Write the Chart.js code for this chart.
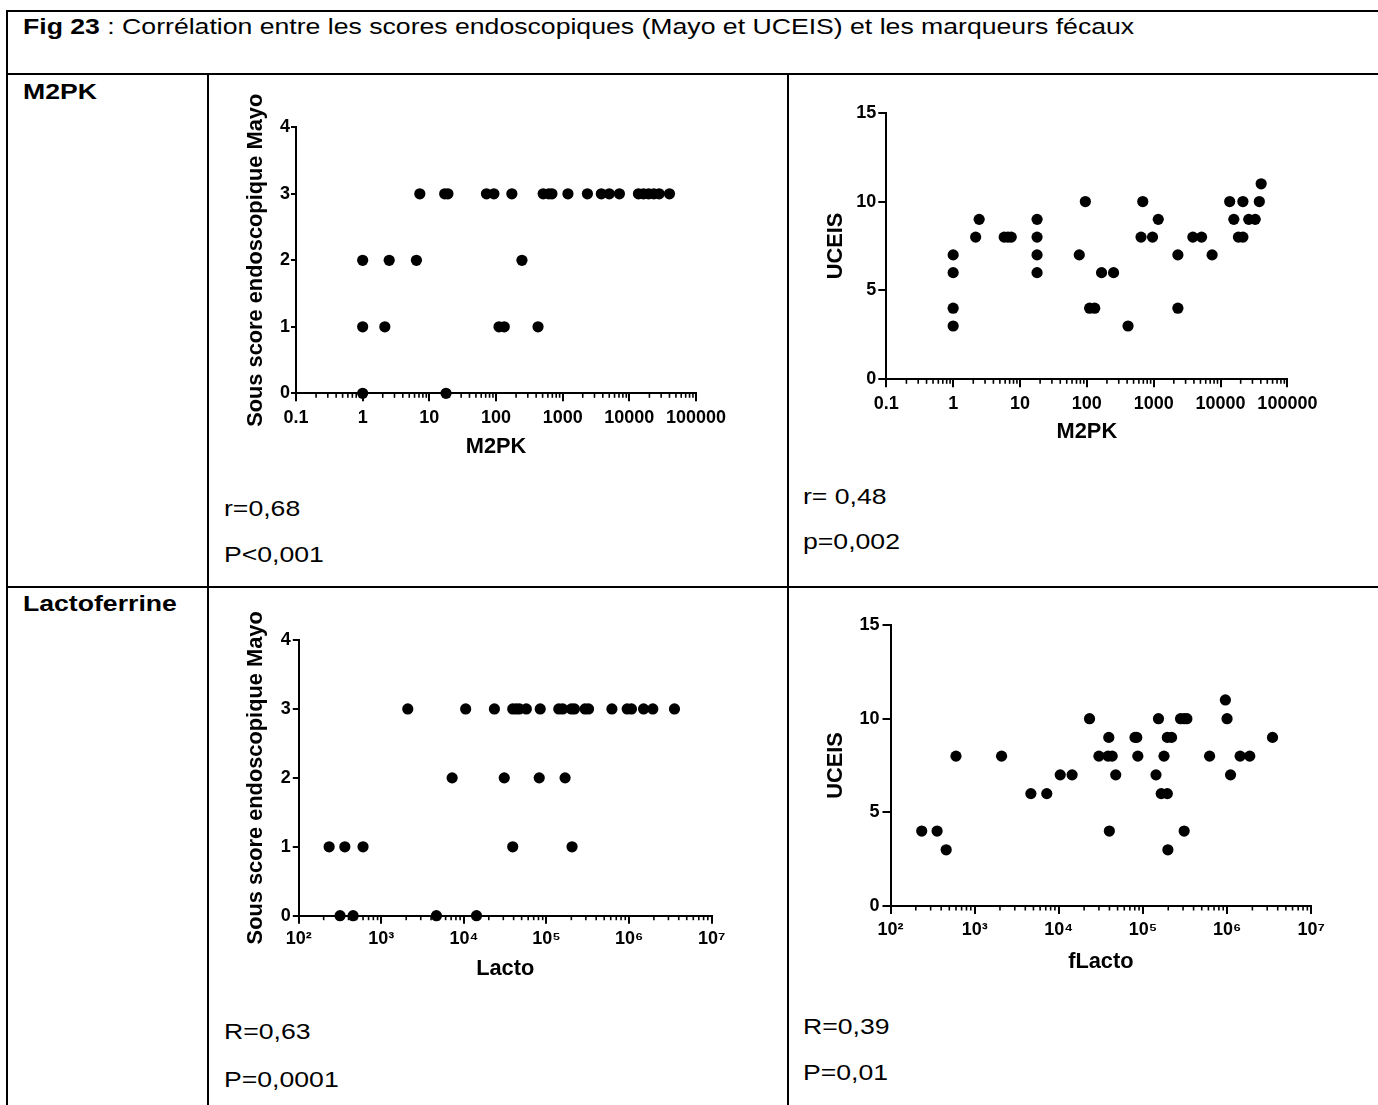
<!DOCTYPE html>
<html>
<head>
<meta charset="utf-8">
<script src="https://cdn.jsdelivr.net/npm/chart.js@4.4.1/dist/chart.umd.min.js"></script>
<style>
html,body{margin:0;padding:0;background:#fff;width:1378px;height:1105px;overflow:hidden;}
.ln{position:absolute;background:#000;}
.t{position:absolute;white-space:nowrap;font-family:"Liberation Sans",Arial,sans-serif;font-size:22px;line-height:22px;color:#000;transform:scaleX(1.21);transform-origin:0 50%;}
.b{font-weight:bold;}
canvas{position:absolute;left:0;top:0;}
</style>
</head>
<body>
<!-- table grid -->
<div class="ln" style="left:6px;top:10px;width:1372px;height:2px"></div>
<div class="ln" style="left:6px;top:10px;width:2px;height:1095px"></div>
<div class="ln" style="left:6px;top:73px;width:1372px;height:2px"></div>
<div class="ln" style="left:207px;top:73px;width:2px;height:1032px"></div>
<div class="ln" style="left:787px;top:73px;width:2px;height:1032px"></div>
<div class="ln" style="left:6px;top:586px;width:1372px;height:2px"></div>

<div class="t" style="left:22.7px;top:16.4px"><b>Fig 23</b> : Corrélation entre les scores endoscopiques (Mayo et UCEIS) et les marqueurs fécaux</div>
<div class="t b" style="left:22.7px;top:81.4px">M2PK</div>
<div class="t b" style="left:22.7px;top:593.4px">Lactoferrine</div>
<div class="t" style="left:224px;top:498.1px">r=0,68</div>
<div class="t" style="left:224px;top:544.1px">P&lt;0,001</div>
<div class="t" style="left:802.7px;top:485.7px">r= 0,48</div>
<div class="t" style="left:802.7px;top:531.4px">p=0,002</div>
<div class="t" style="left:224px;top:1021.4px">R=0,63</div>
<div class="t" style="left:224px;top:1069.4px">P=0,0001</div>
<div class="t" style="left:802.7px;top:1016.4px">R=0,39</div>
<div class="t" style="left:802.7px;top:1062.4px">P=0,01</div>

<canvas id="c1" width="1378" height="1105"></canvas>
<canvas id="c2" width="1378" height="1105"></canvas>
<canvas id="c3" width="1378" height="1105"></canvas>
<canvas id="c4" width="1378" height="1105"></canvas>

<script>
// ---------------- data ----------------
const m2pkTicks = [0.1, 1, 10, 100, 1000, 10000, 100000];
const m2pkTickLabels = ['0.1', '1', '10', '100', '1000', '10000', '100000'];
const lactoTicks = [1e2, 1e3, 1e4, 1e5, 1e6, 1e7];
const lactoTickLabels = ['10²', '10³', '10⁴', '10⁵', '10⁶', '10⁷'];
const mayoTicks = [0, 1, 2, 3, 4];
const uceisTicks = [0, 5, 10, 15];

// M2PK vs sous score Mayo
const m2pkMayoX = [7.2, 17, 19, 72, 93, 173, 510, 620, 690, 1200, 2350, 3800, 5000, 7100, 13700, 16300, 19500, 23300, 28000, 40000,
                   1, 2.5, 6.4, 245,
                   1, 2.15, 111, 133, 427,
                   1, 17.8];
const m2pkMayoY = [3, 3, 3, 3, 3, 3, 3, 3, 3, 3, 3, 3, 3, 3, 3, 3, 3, 3, 3, 3,
                   2, 2, 2, 2,
                   1, 1, 1, 1, 1,
                   0, 0];

// M2PK vs UCEIS
const m2pkUceisX = [1, 1, 1, 1, 2.17, 2.45, 5.8, 6.6, 7.4, 18, 18, 18, 18, 77, 95, 110, 131, 166, 251, 413,
                    646, 686, 960, 1170, 2300, 2300, 3850, 5200, 7480, 13700, 15800, 18500, 21600, 21600, 26400, 33000, 38000, 40500];
const m2pkUceisY = [7, 6, 4, 3, 8, 9, 8, 8, 8, 9, 8, 7, 6, 7, 10, 4, 4, 6, 6, 3,
                    8, 10, 8, 9, 7, 4, 8, 8, 7, 10, 9, 8, 10, 8, 9, 9, 10, 11];

// Lacto vs sous score Mayo
const lactoMayoX = [2090, 10500, 23400, 39000, 43000, 47000, 57000, 84000, 141000, 157000, 200000, 218000, 293000, 323000, 620000, 950000, 1070000, 1500000, 1940000, 3550000,
                    7200, 30800, 81700, 168000,
                    233, 361, 600, 39000, 204000,
                    316, 455, 4640, 14200];
const lactoMayoY = [3, 3, 3, 3, 3, 3, 3, 3, 3, 3, 3, 3, 3, 3, 3, 3, 3, 3, 3, 3,
                    2, 2, 2, 2,
                    1, 1, 1, 1, 1,
                    0, 0, 0, 0];

// fLacto vs UCEIS
const flactoUceisX = [235, 358, 459, 600, 2090, 4660, 7200, 10400, 14400, 23200, 30000, 39300, 38500, 43100, 39900, 47500, 80500, 84500, 87000, 143000,
                      153000, 165000, 178000, 195000, 195000, 219000, 198000, 280000, 309000, 333000, 309000, 620000, 955000, 1000000, 1100000, 1430000, 1860000, 3470000];
const flactoUceisY = [4, 4, 3, 8, 8, 6, 6, 7, 7, 10, 8, 9, 8, 8, 4, 7, 9, 9, 8, 7,
                      10, 6, 8, 6, 9, 9, 3, 10, 10, 10, 4, 8, 11, 10, 7, 8, 8, 9];

// ---------------- layout & style ----------------
const PAGE_W = 1378, PAGE_H = 1105;
const FAMILY = "'Liberation Sans', Arial, sans-serif";
Chart.defaults.font.family = FAMILY;
Chart.defaults.color = '#000';
const TITLE_SIZE = 21.8;
const TITLE_OFF = 4 + TITLE_SIZE * 1.2 / 2;
const XTICK_SIZE = 18, YTICK_SIZE = 18;

const minorTicksPlugin = {
  id: 'minorTicks',
  beforeDatasetsDraw(chart, args, opts) {
    const xs = chart.scales.x, ctx = chart.ctx, y0 = chart.chartArea.bottom;
    const dec = opts.decades;
    ctx.save();
    ctx.strokeStyle = '#000';
    ctx.lineWidth = 1.6;
    for (let i = 0; i < dec.length - 1; i++) {
      for (let k = 2; k <= 9; k++) {
        const x = xs.getPixelForValue(dec[i] * k);
        ctx.beginPath();
        ctx.moveTo(x, y0);
        ctx.lineTo(x, y0 + opts.len);
        ctx.stroke();
      }
    }
    ctx.restore();
  }
};

function buildChart(id, o) {
  const pts = o.xs.map((x, i) => ({x: x, y: o.ys[i]}));
  const leftEdge = o.titleX - TITLE_OFF;
  const bottomEdge = o.xTitleY + TITLE_OFF;
  return new Chart(document.getElementById(id), {
    type: 'scatter',
    data: {datasets: [{
      data: pts,
      pointRadius: 5.6, pointHoverRadius: 5.6,
      pointBackgroundColor: '#000', pointBorderColor: '#000', pointBorderWidth: 0,
      clip: false
    }]},
    options: {
      responsive: false, animation: false, devicePixelRatio: 1, events: [],
      layout: {padding: {left: leftEdge, top: o.T, right: PAGE_W - o.R, bottom: PAGE_H - bottomEdge}},
      plugins: {legend: {display: false}, tooltip: {enabled: false}, minorTicks: {decades: o.xTicks, len: 4.5}},
      scales: {
        x: {
          type: 'logarithmic', position: 'bottom',
          min: o.xTicks[0], max: o.xTicks[o.xTicks.length - 1],
          afterBuildTicks: s => { s.ticks = o.xTicks.map(v => ({value: v, major: true})); },
          afterFit: s => { s.height = bottomEdge - o.B; },
          ticks: {autoSkip: false, maxRotation: 0, minRotation: 0, padding: o.xPad, color: '#000',
                  font: {size: XTICK_SIZE, weight: 'bold'},
                  callback: (v, i) => o.xLabels[i]},
          grid: {display: true, drawOnChartArea: false, drawTicks: true, tickLength: 8, color: '#000', lineWidth: 2},
          border: {display: true, color: '#000', width: 2},
          title: {display: true, text: o.xTitle, color: '#000', padding: {top: 4, bottom: 4},
                  font: {size: TITLE_SIZE, weight: 'bold'}}
        },
        y: {
          type: 'linear', position: 'left',
          min: o.yTicks[0], max: o.yTicks[o.yTicks.length - 1],
          afterBuildTicks: s => { s.ticks = o.yTicks.map(v => ({value: v})); },
          afterFit: s => { s.width = o.L - leftEdge; },
          ticks: {padding: o.yPad, color: '#000', font: {size: YTICK_SIZE, weight: 'bold'}},
          grid: {display: true, drawOnChartArea: false, drawTicks: true, tickLength: o.yTick, color: '#000', lineWidth: 2},
          border: {display: true, color: '#000', width: 2},
          title: {display: true, text: o.yTitle, color: '#000', padding: {top: 4, bottom: 4},
                  font: {size: TITLE_SIZE, weight: 'bold'}}
        }
      }
    },
    plugins: [minorTicksPlugin]
  });
}

buildChart('c1', {xs: m2pkMayoX, ys: m2pkMayoY, xTicks: m2pkTicks, xLabels: m2pkTickLabels, yTicks: mayoTicks,
  xTitle: 'M2PK', yTitle: 'Sous score endoscopique Mayo',
  L: 296, R: 696, T: 127.3, B: 393.3, titleX: 256.3, xTitleY: 446.5, xPad: 5.5, yTick: 5, yPad: 1});
buildChart('c2', {xs: m2pkUceisX, ys: m2pkUceisY, xTicks: m2pkTicks, xLabels: m2pkTickLabels, yTicks: uceisTicks,
  xTitle: 'M2PK', yTitle: 'UCEIS',
  L: 886.3, R: 1287.4, T: 112.7, B: 379.3, titleX: 835.6, xTitleY: 432, xPad: 6, yTick: 8, yPad: 2});
buildChart('c3', {xs: lactoMayoX, ys: lactoMayoY, xTicks: lactoTicks, xLabels: lactoTickLabels, yTicks: mayoTicks,
  xTitle: 'Lacto', yTitle: 'Sous score endoscopique Mayo',
  L: 298.8, R: 711.6, T: 640, B: 915.7, titleX: 256.3, xTitleY: 968.5, xPad: 5, yTick: 6, yPad: 2});
buildChart('c4', {xs: flactoUceisX, ys: flactoUceisY, xTicks: lactoTicks, xLabels: lactoTickLabels, yTicks: uceisTicks,
  xTitle: 'fLacto', yTitle: 'UCEIS',
  L: 890.5, R: 1311.2, T: 625, B: 906, titleX: 835.6, xTitleY: 962, xPad: 5.5, yTick: 8, yPad: 3});
</script>
</body>
</html>
